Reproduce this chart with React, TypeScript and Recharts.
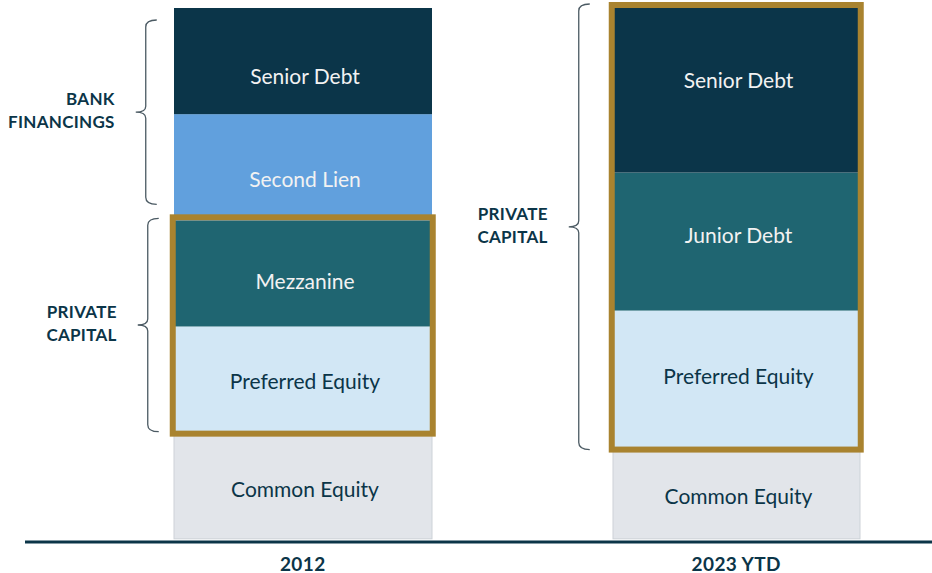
import React from 'react';
import {BarChart, Bar, XAxis, YAxis, LabelList, ReferenceArea} from 'recharts';

const periods = ['2012', '2023 YTD'];
const commonEquity = [20, 17];
const preferredEquity = [20, 26];
const mezzanine = [20, 0];
const juniorDebt = [0, 26];
const secondLien = [20, 0];
const seniorDebt = [20, 31];

const data = periods.map((period, i) => ({
    period,
    commonEquity: commonEquity[i],
    preferredEquity: preferredEquity[i],
    mezzanine: mezzanine[i],
    juniorDebt: juniorDebt[i],
    secondLien: secondLien[i],
    seniorDebt: seniorDebt[i],
}));

const NAVY = '#0b3548';
const GOLD = '#a9832f';
const FONT = 'Lato, "Noto Sans", sans-serif';
const barWidths: Record<string, number> = {'2012': 258, '2023 YTD': 247};

interface SeriesDef {
    key: string;
    name: string;
    fill: string;
    text: string;
    stroke?: string;
    // label nudges per period (the source doesn't centre them exactly)
    dy: number[];
}

const series: SeriesDef[] = [
    {key: 'commonEquity', name: 'Common Equity', fill: '#e2e5ea', text: NAVY, stroke: '#cdd2d8', dy: [3, 2]},
    {key: 'preferredEquity', name: 'Preferred Equity', fill: '#d2e7f5', text: NAVY, dy: [1, -4]},
    {key: 'mezzanine', name: 'Mezzanine', fill: '#1f6571', text: '#f2f2f2', dy: [7, 0]},
    {key: 'juniorDebt', name: 'Junior Debt', fill: '#1f6571', text: '#f2f2f2', dy: [0, -7]},
    {key: 'secondLien', name: 'Second Lien', fill: '#61a0dd', text: '#f2f2f2', dy: [11, 0]},
    {key: 'seniorDebt', name: 'Senior Debt', fill: '#0b3549', text: '#f2f2f2', dy: [14, -11]},
];

// eslint-disable-next-line @typescript-eslint/no-explicit-any
const SegmentShape = (props: any) => {
    const {x, y, width, height, fill, stroke, payload} = props;
    if (!height) return null;
    const w = barWidths[payload.period] ?? width;
    const nx = x + (width - w) / 2;
    return <rect x={nx} y={y} width={w} height={height} fill={fill} stroke={stroke || 'none'} strokeWidth={1} />;
};

function segmentLabel(s: SeriesDef) {
    // eslint-disable-next-line @typescript-eslint/no-explicit-any
    return (props: any) => {
        const {x, y, width, height, value, index} = props;
        if (!value) return null;
        return (
            <text
                x={x + width / 2 + 2}
                y={y + height / 2 + (s.dy[index] ?? 0)}
                textAnchor="middle"
                dominantBaseline="central"
                fill={s.text}
                fontSize={21}
                fontFamily={FONT}
            >
                {s.name}
            </text>
        );
    };
}

// gold outline around the private capital slice of a bar
function frameShape(period: string) {
    // eslint-disable-next-line @typescript-eslint/no-explicit-any
    return (props: any) => {
        const {x, y, width, height} = props;
        const w = barWidths[period];
        const cx = x + width / 2;
        return (
            <rect
                x={cx - w / 2 - 1}
                y={y - 3}
                width={w + 2}
                height={height + 4}
                fill="none"
                stroke={GOLD}
                strokeWidth={6}
            />
        );
    };
}

interface BracketOpts {
    period: string;
    gap: number;
    insetTop: number;
    insetBottom: number;
    lines: string[];
}

function bracketShape({period, gap, insetTop, insetBottom, lines}: BracketOpts) {
    // eslint-disable-next-line @typescript-eslint/no-explicit-any
    return (props: any) => {
        const {x, y, width, height} = props;
        const w = barWidths[period];
        const left = x + width / 2 - w / 2;
        const xv = left - gap;
        const top = y + insetTop;
        const bottom = y + height - insetBottom;
        const mid = (top + bottom) / 2;
        const d = [
            `M ${xv + 11} ${top}`,
            `Q ${xv} ${top} ${xv} ${top + 7}`,
            `L ${xv} ${mid - 6}`,
            `Q ${xv} ${mid} ${xv - 10} ${mid}`,
            `Q ${xv} ${mid} ${xv} ${mid + 6}`,
            `L ${xv} ${bottom - 7}`,
            `Q ${xv} ${bottom} ${xv + 11} ${bottom}`,
        ].join(' ');
        return (
            <g>
                <path d={d} fill="none" stroke="#4b5a63" strokeWidth={1.3} />
                {lines.map((line, i) => (
                    <text
                        key={line}
                        x={xv - 31}
                        y={mid - 2 + (i - (lines.length - 1) / 2) * 23}
                        textAnchor="end"
                        dominantBaseline="central"
                        fill={NAVY}
                        fontSize={17}
                        fontWeight={700}
                        fontFamily={FONT}
                        letterSpacing={0.3}
                    >
                        {line}
                    </text>
                ))}
            </g>
        );
    };
}

// eslint-disable-next-line @typescript-eslint/no-explicit-any
const PeriodTick = (props: any) => {
    const {x, y, payload} = props;
    return (
        <text
            x={x}
            y={y + 21}
            textAnchor="middle"
            dominantBaseline="central"
            fill={NAVY}
            fontSize={19}
            fontWeight={700}
            fontFamily={FONT}
            letterSpacing={0.4}
        >
            {payload.value}
        </text>
    );
};

export default function App() {
    return (
        <div style={{position: 'absolute', left: 0, top: 0, width: 932, height: 573, overflow: 'hidden', background: '#fff'}}>
            <BarChart
                width={960}
                height={573}
                data={data}
                margin={{top: 8, right: 7, left: 25, bottom: 0}}
                barSize={258}
            >
                <XAxis
                    dataKey="period"
                    padding={{left: 61, right: 0}}
                    height={31}
                    axisLine={{stroke: NAVY, strokeWidth: 3}}
                    tickLine={false}
                    tickSize={0}
                    tickMargin={0}
                    tick={<PeriodTick />}
                    interval={0}
                />
                <YAxis hide domain={[-0.6, 100]} allowDataOverflow />
                {series.map(s => (
                    <Bar
                        key={s.key}
                        dataKey={s.key}
                        stackId="stack"
                        fill={s.fill}
                        stroke={s.stroke}
                        shape={<SegmentShape />}
                        isAnimationActive={false}
                    >
                        <LabelList dataKey={s.key} content={segmentLabel(s)} />
                    </Bar>
                ))}
                <ReferenceArea zIndex={1000} x1="2012" x2="2012" y1={20} y2={60} shape={frameShape('2012')} />
                <ReferenceArea zIndex={1000} x1="2023 YTD" x2="2023 YTD" y1={17} y2={100} shape={frameShape('2023 YTD')} />
                <ReferenceArea
                    x1="2012" x2="2012" y1={60} y2={100}
                    shape={bracketShape({period: '2012', gap: 28, insetTop: 12, insetBottom: 16, lines: ['BANK', 'FINANCINGS']})}
                />
                <ReferenceArea
                    x1="2012" x2="2012" y1={20} y2={60}
                    shape={bracketShape({period: '2012', gap: 26, insetTop: -2, insetBottom: 1, lines: ['PRIVATE', 'CAPITAL']})}
                />
                <ReferenceArea
                    x1="2023 YTD" x2="2023 YTD" y1={17} y2={100}
                    shape={bracketShape({period: '2023 YTD', gap: 34, insetTop: -4, insetBottom: -1, lines: ['PRIVATE', 'CAPITAL']})}
                />
            </BarChart>
        </div>
    );
}
